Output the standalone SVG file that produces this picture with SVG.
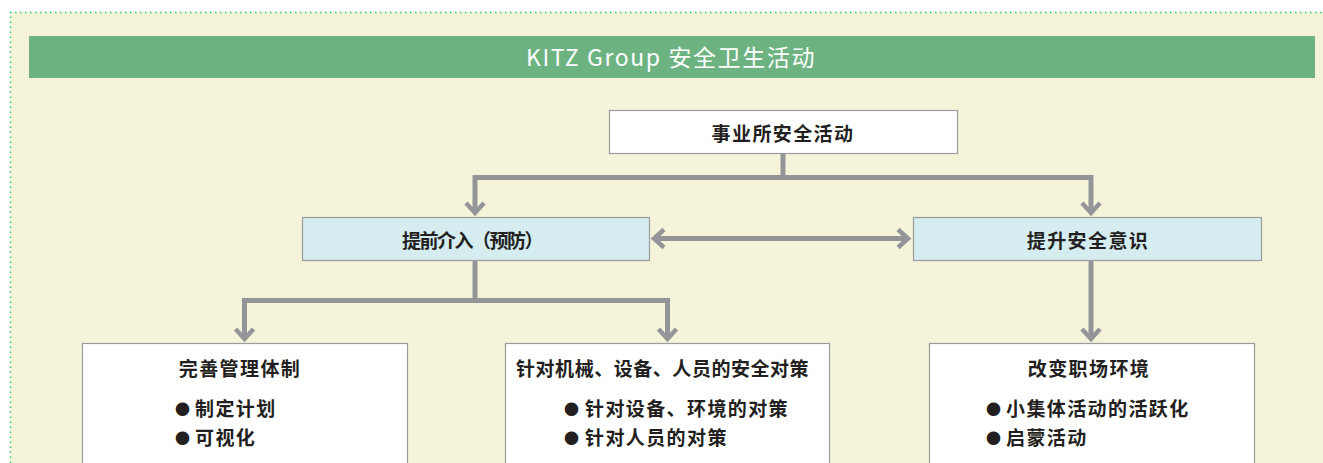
<svg xmlns="http://www.w3.org/2000/svg" width="1323" height="463" viewBox="0 0 1323 463">
<defs>
<style>
.bg{fill:#f5f3da}
.frame{fill:none;stroke:#2fcf6e;stroke-width:1.5;stroke-dasharray:1.5 3.5}
.banner{fill:#6db382}
.title{font-family:"Noto Sans CJK SC","Noto Sans",sans-serif;font-size:23px;fill:#ffffff;letter-spacing:1.6px}
.box{fill:#ffffff;stroke:#9a9b9d;stroke-width:1.2}
.boxb{fill:#d5edf0;stroke:#9a9b9d;stroke-width:1.2}
.t{font-family:"Noto Sans CJK SC","Noto Sans",sans-serif;font-weight:700;font-size:19px;fill:#231f20;letter-spacing:1.4px}
.dot{font-size:15px;letter-spacing:0}
.line{fill:none;stroke:#939598;stroke-width:5}
</style>
<marker id="chev" viewBox="-14 -12 18 24" markerWidth="18" markerHeight="24" refX="0" refY="0" orient="auto-start-reverse" markerUnits="userSpaceOnUse">
<path d="M-10,-9 L0,0 L-10,9" fill="none" stroke="#939598" stroke-width="4.5"/>
</marker>
</defs>
<rect class="bg" x="10" y="12" width="1313" height="451"/>
<path class="frame" d="M10.5,463 V12.5 H1323"/>
<g id="banner">
<rect class="banner" x="29" y="36" width="1286" height="42"/>
<text class="title" x="671" y="65.5" text-anchor="middle">KITZ Group 安全卫生活动</text>
</g>
<g id="connectors">
<path class="line" d="M783,153 V177.5"/>
<path class="line" d="M475,177.5 H1091"/>
<path class="line" d="M475,175 V213" marker-end="url(#chev)"/>
<path class="line" d="M1091,175 V213" marker-end="url(#chev)"/>
<path class="line" d="M654,238.5 H908" marker-start="url(#chev)" marker-end="url(#chev)"/>
<path class="line" d="M475,260 V300.5"/>
<path class="line" d="M244,300.5 H668"/>
<path class="line" d="M244.5,298 V339" marker-end="url(#chev)"/>
<path class="line" d="M667.5,298 V339" marker-end="url(#chev)"/>
<path class="line" d="M1091,260 V339" marker-end="url(#chev)"/>
</g>
<g id="node-top">
<rect class="box" x="609.5" y="110.5" width="348" height="43"/>
<text class="t" x="783" y="141" text-anchor="middle">事业所安全活动</text>
</g>
<g id="node-prevent">
<rect class="boxb" x="302.5" y="217.5" width="347" height="43"/>
<text class="t" x="402" y="248" textLength="143" lengthAdjust="spacing">提前介入（预防）</text>
</g>
<g id="node-awareness">
<rect class="boxb" x="913.5" y="217.5" width="348" height="43"/>
<text class="t" x="1088" y="248" text-anchor="middle">提升安全意识</text>
</g>
<g id="node-system">
<rect class="box" x="82.5" y="343.5" width="325" height="125"/>
<text class="t" x="240" y="376" text-anchor="middle">完善管理体制</text>
<text class="t" y="416"><tspan class="dot" x="175" y="415">●</tspan><tspan x="195" y="416">制定计划</tspan></text>
<text class="t" y="445"><tspan class="dot" x="175" y="444">●</tspan><tspan x="195" y="445">可视化</tspan></text>
</g>
<g id="node-measures">
<rect class="box" x="505.5" y="343.5" width="324" height="125"/>
<text class="t" x="516" y="376" textLength="294" lengthAdjust="spacing">针对机械、设备、人员的安全对策</text>
<text class="t" y="416"><tspan class="dot" x="564" y="415">●</tspan><tspan x="585" y="416">针对设备、环境的对策</tspan></text>
<text class="t" y="445"><tspan class="dot" x="564" y="444">●</tspan><tspan x="585" y="445">针对人员的对策</tspan></text>
</g>
<g id="node-workplace">
<rect class="box" x="929.5" y="343.5" width="325" height="125"/>
<text class="t" x="1089" y="376" text-anchor="middle">改变职场环境</text>
<text class="t" y="416"><tspan class="dot" x="986" y="415">●</tspan><tspan x="1006" y="416">小集体活动的活跃化</tspan></text>
<text class="t" y="445"><tspan class="dot" x="986" y="444">●</tspan><tspan x="1006" y="445">启蒙活动</tspan></text>
</g>
</svg>
